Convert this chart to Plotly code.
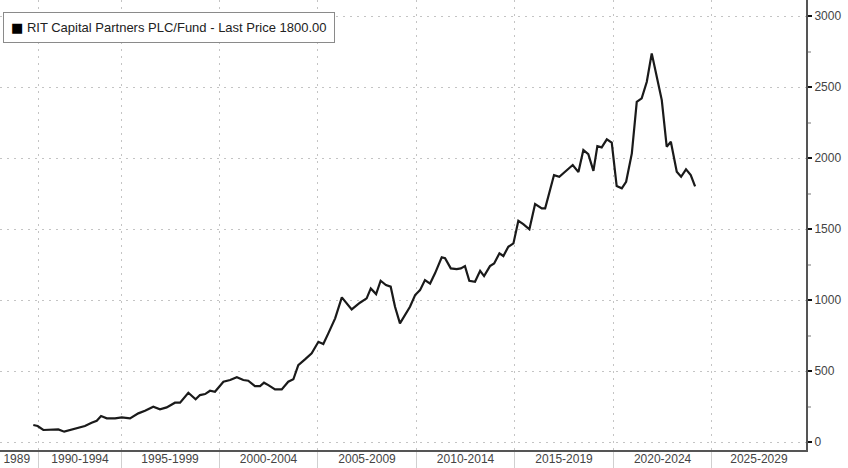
import plotly.graph_objects as go

# Decimal years and prices
years = [1990.56, 1990.78, 1991.07, 1991.41, 1991.83, 1992.13, 1992.34, 1992.76, 1993.18, 1993.52,
         1993.78, 1994.00, 1994.29, 1994.71, 1995.05, 1995.47, 1995.89, 1996.23, 1996.65, 1996.99,
         1997.33, 1997.75, 1998.01, 1998.43, 1998.80, 1999.02, 1999.28, 1999.53, 1999.78, 2000.21,
         2000.55, 2000.89, 2001.22, 2001.47, 2001.81, 2002.07, 2002.27, 2002.49, 2002.83, 2003.17,
         2003.50, 2003.76, 2004.01, 2004.35, 2004.69, 2005.03, 2005.28, 2005.54, 2005.88, 2006.22,
         2006.72, 2007.14, 2007.48, 2007.69, 2007.96, 2008.19, 2008.46, 2008.70, 2008.92, 2009.17,
         2009.43, 2009.68, 2009.94, 2010.19, 2010.44, 2010.70, 2010.95, 2011.29, 2011.46, 2011.75,
         2012.05, 2012.26, 2012.47, 2012.69, 2012.98, 2013.24, 2013.44, 2013.74, 2013.95, 2014.22,
         2014.42, 2014.67, 2014.93, 2015.18, 2015.43, 2015.74, 2016.03, 2016.37, 2016.54, 2016.70,
         2016.99, 2017.26, 2017.60, 2017.94, 2018.23, 2018.48, 2018.73, 2018.99, 2019.19, 2019.41,
         2019.67, 2019.92, 2020.17, 2020.43, 2020.65, 2020.94, 2021.19, 2021.44, 2021.70, 2021.95,
         2022.17, 2022.46, 2022.71, 2022.92, 2023.22, 2023.44, 2023.69, 2023.93, 2024.15]
prices = [120, 113, 85, 89, 89, 73, 80, 96, 113, 136,
          150, 183, 167, 167, 174, 167, 202, 220, 249, 230,
          244, 277, 277, 347, 301, 331, 338, 361, 354, 425,
          437, 456, 437, 432, 394, 394, 418, 401, 371, 371,
          425, 442, 542, 582, 625, 706, 690, 767, 871, 1019,
          934, 981, 1012, 1082, 1042, 1136, 1106, 1094, 953, 836,
          894, 953, 1035, 1070, 1141, 1116, 1188, 1301, 1294, 1223,
          1218, 1223, 1239, 1136, 1129, 1206, 1169, 1239, 1258, 1329,
          1310, 1375, 1399, 1558, 1535, 1498, 1676, 1646, 1646, 1727,
          1880, 1868, 1910, 1951, 1901, 2056, 2028, 1910, 2084, 2075,
          2132, 2108, 1803, 1787, 1833, 2033, 2396, 2420, 2537, 2737,
          2596, 2408, 2080, 2115, 1903, 1868, 1920, 1880, 1800]

period_labels = ["1989", "1990-1994", "1995-1999", "2000-2004", "2005-2009",
                 "2010-2014", "2015-2019", "2020-2024", "2025-2029"]
period_centers = [1989.72, 1992.93, 1997.5, 2002.5, 2007.5, 2012.5, 2017.5, 2022.5, 2027.39]
period_bounds = [1990.8, 1995.05, 2000, 2005, 2010, 2015, 2020, 2025]
y_ticks = [0, 500, 1000, 1500, 2000, 2500, 3000]
series_name = "RIT Capital Partners PLC/Fund - Last Price 1800.00"

fig = go.Figure()
fig.add_trace(go.Scatter(x=years, y=prices, mode="lines", name=series_name,
                         line=dict(color="#1a1a1a", width=2.2), showlegend=False))

# legend box drawn as an annotation (black square + series label)
fig.add_annotation(xref="paper", yref="paper", x=0.004, y=0.973,
                   xanchor="left", yanchor="top", showarrow=False, align="left",
                   text="<span style='font-family:DejaVu Sans;font-size:13px;color:#000'>■</span> " + series_name,
                   font=dict(family="Liberation Sans, Arial, sans-serif", size=13, color="#222222"),
                   bgcolor="white", bordercolor="#8a8a8a", borderwidth=1, borderpad=7)

fig.update_layout(
    width=848, height=468,
    margin=dict(l=0, r=42, t=0, b=18, autoexpand=False),
    paper_bgcolor="white", plot_bgcolor="white",
    font=dict(family="Liberation Sans, Arial, sans-serif", size=12, color="#444444"),
    xaxis=dict(range=[1988.87, 2029.78], tickmode="array", automargin=False,
               tickvals=period_centers, ticktext=period_labels,
               showgrid=False, ticks="", zeroline=False,
               showline=True, linecolor="#555555", linewidth=2,
               ticklabelstandoff=-3,
               tickfont=dict(size=12, color="#444444"),
               minor=dict(tickmode="array", tickvals=period_bounds, showgrid=True,
                          gridcolor="#c4c4c4", griddash="2px,5px", gridwidth=1,
                          ticks="outside", ticklen=17, tickcolor="#d0d0d0", tickwidth=1)),
    yaxis=dict(range=[-56, 3113], side="right", tickmode="array", tickvals=y_ticks,
               automargin=False,
               showgrid=True, gridcolor="#c4c4c4", griddash="2px,5px", gridwidth=1,
               zeroline=False, showline=True, linecolor="#555555", linewidth=2,
               ticks="outside", ticklen=4, tickcolor="#111111", tickwidth=2,
               ticklabelstandoff=0,
               tickfont=dict(size=12, color="#444444"),
               minor=dict(dtick=250, ticks="outside", ticklen=3, tickcolor="#bbbbbb",
                          showgrid=False)),
)

fig.write_html("out.html", config={"displayModeBar": False},
               post_script="document.body.style.margin='0';")
